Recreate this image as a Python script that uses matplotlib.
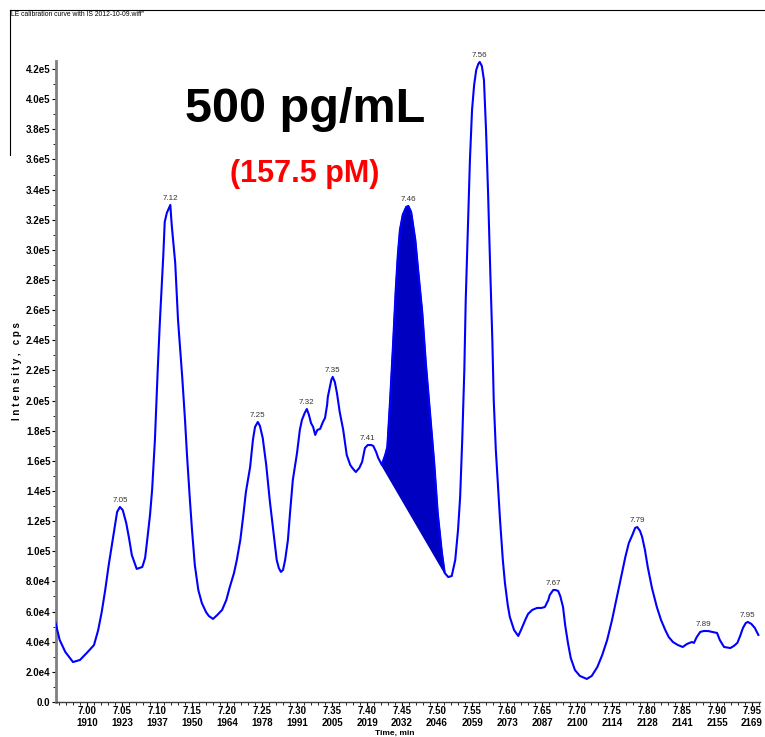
import numpy as np
import matplotlib
matplotlib.use("Agg")
import matplotlib.pyplot as plt
from matplotlib.lines import Line2D
from matplotlib.ticker import FixedLocator, MultipleLocator, FuncFormatter

# chromatogram: time (min) and intensity (thousands of cps)
time_min = [
    6.954, 6.961, 6.969, 6.980, 6.990, 7.001, 7.010, 7.016, 7.021, 7.026,
    7.031, 7.036, 7.043, 7.047, 7.051, 7.056, 7.060, 7.064, 7.071, 7.079,
    7.083, 7.086, 7.090, 7.093, 7.097, 7.101, 7.104, 7.109, 7.111, 7.114,
    7.119, 7.121, 7.126, 7.130, 7.136, 7.140, 7.143, 7.147, 7.150, 7.154,
    7.159, 7.164, 7.170, 7.174, 7.180, 7.186, 7.193, 7.199, 7.204, 7.210,
    7.214, 7.219, 7.223, 7.227, 7.233, 7.237, 7.240, 7.244, 7.247, 7.251,
    7.256, 7.261, 7.266, 7.271, 7.274, 7.277, 7.280, 7.283, 7.287, 7.290,
    7.294, 7.300, 7.304, 7.307, 7.311, 7.314, 7.317, 7.320, 7.323, 7.326,
    7.329, 7.333, 7.337, 7.340, 7.343, 7.344, 7.349, 7.351, 7.354, 7.357,
    7.361, 7.366, 7.369, 7.371, 7.376, 7.379, 7.384, 7.389, 7.393, 7.397,
    7.401, 7.406, 7.409, 7.413, 7.416, 7.419, 7.421, 7.426, 7.429, 7.433,
    7.437, 7.441, 7.444, 7.447, 7.451, 7.456, 7.459, 7.463, 7.469, 7.473,
    7.479, 7.484, 7.490, 7.496, 7.501, 7.507, 7.511, 7.516, 7.521, 7.526,
    7.530, 7.533, 7.536, 7.539, 7.541, 7.544, 7.547, 7.550, 7.553, 7.556,
    7.559, 7.561, 7.564, 7.567, 7.570, 7.573, 7.576, 7.579, 7.581, 7.584,
    7.590, 7.594, 7.597, 7.601, 7.604, 7.610, 7.616, 7.620, 7.626, 7.630,
    7.636, 7.643, 7.649, 7.654, 7.659, 7.661, 7.666, 7.669, 7.673, 7.676,
    7.680, 7.683, 7.687, 7.691, 7.697, 7.704, 7.714, 7.721, 7.729, 7.736,
    7.743, 7.750, 7.757, 7.763, 7.769, 7.774, 7.779, 7.783, 7.786, 7.790,
    7.793, 7.797, 7.801, 7.807, 7.814, 7.820, 7.826, 7.831, 7.837, 7.844,
    7.851, 7.857, 7.861, 7.864, 7.867, 7.871, 7.876, 7.881, 7.887, 7.893,
    7.900, 7.904, 7.910, 7.919, 7.924, 7.929, 7.933, 7.937, 7.941, 7.944,
    7.949, 7.954, 7.959,
]
intensity_k = [
    54.4, 41.1, 33.2, 26.5, 27.9, 33.2, 37.8, 47.8, 59.7, 74.3,
    90.9, 105.5, 126.1, 129.4, 127.4, 118.8, 108.8, 97.5, 88.3, 89.6,
    95.6, 107.5, 124.1, 140.7, 173.9, 220.3, 251.5, 296.6, 318.5, 324.5,
    329.8, 316.5, 291.3, 253.5, 215.7, 187.1, 162.6, 134.0, 114.1, 90.9,
    74.3, 65.7, 59.7, 57.1, 55.1, 57.7, 61.1, 67.7, 76.3, 85.6,
    94.2, 107.5, 122.8, 139.4, 155.9, 173.9, 182.5, 185.8, 183.2, 175.2,
    157.3, 134.0, 114.1, 94.2, 88.9, 86.3, 87.6, 94.2, 107.5, 125.4,
    147.3, 165.2, 180.5, 187.1, 191.8, 194.4, 190.5, 185.1, 182.5, 177.2,
    180.5, 181.2, 185.8, 188.5, 197.1, 202.4, 213.7, 215.7, 212.3, 205.1,
    192.4, 180.5, 170.5, 163.9, 157.3, 155.3, 152.6, 155.3, 159.3, 168.5,
    170.5, 170.5, 169.9, 165.9, 161.9, 159.3, 157.3, 163.9, 169.2, 200.4,
    235.6, 273.4, 296.6, 313.2, 323.2, 328.5, 329.1, 325.2, 306.6, 286.7,
    258.1, 225.0, 191.8, 158.6, 125.4, 98.9, 85.6, 82.9, 83.6, 94.2,
    114.1, 136.0, 173.9, 220.3, 266.8, 313.2, 359.7, 392.8, 409.4, 419.4,
    423.4, 424.7, 422.0, 412.8, 379.6, 336.4, 286.7, 240.2, 200.4, 167.2,
    120.8, 94.2, 79.0, 64.4, 56.4, 47.8, 43.8, 47.8, 54.4, 58.4,
    61.1, 62.4, 62.4, 63.0, 67.7, 71.0, 74.3, 74.3, 73.7, 70.3,
    63.0, 51.1, 39.2, 29.2, 21.2, 17.3, 15.3, 17.3, 23.2, 31.2,
    41.1, 54.4, 69.7, 82.9, 96.2, 105.5, 110.8, 115.5, 116.1, 113.5,
    109.5, 100.9, 89.6, 75.7, 63.0, 54.4, 47.8, 43.1, 39.8, 37.8,
    36.5, 38.5, 39.2, 39.8, 39.2, 43.1, 46.5, 47.1, 47.1, 46.5,
    45.8, 41.1, 36.5, 35.8, 37.2, 39.2, 43.8, 49.1, 52.4, 53.1,
    51.8, 49.1, 44.5,
]

peak_times = [7.05, 7.12, 7.25, 7.32, 7.35, 7.41, 7.46, 7.56, 7.67, 7.79, 7.89, 7.95]

# integrated peak (shaded) start/end times
area_start, area_end = 7.421, 7.511

tick_times = [7.00, 7.05, 7.10, 7.15, 7.20, 7.25, 7.30, 7.35, 7.40, 7.45,
              7.50, 7.55, 7.60, 7.65, 7.70, 7.75, 7.80, 7.85, 7.90, 7.95]
tick_scans = [1910, 1923, 1937, 1950, 1964, 1978, 1991, 2005, 2019, 2032,
              2046, 2059, 2073, 2087, 2100, 2114, 2128, 2141, 2155, 2169]

t = np.array(time_min)
y = np.array(intensity_k) * 1000

plt.rcParams['font.family'] = ['Liberation Sans', 'DejaVu Sans']

fig = plt.figure(figsize=(7.65, 7.37), dpi=100)
ax = fig.add_axes([0.0732, 0.0475, 0.9203, 0.8697])

ax.plot(t, y, color="#0000ff", lw=1.5, zorder=3)

# shaded area with straight baseline between start and end points
m = (t >= area_start) & (t <= area_end)
ax.fill(t[m], y[m], color="#0000c0", zorder=2)

# peak labels
for pt in peak_times:
    near = np.abs(t - pt) < 0.02
    idx = np.where(near)[0][np.argmax(y[near])]
    ax.annotate(f"{pt:.2f}", (t[idx], y[idx]), xytext=(0, 2), textcoords="offset points",
                ha="center", va="bottom", fontsize=5.8, color="#333333")

ax.set_xlim(6.9557, 7.9614)
ax.set_ylim(0, 4.253e5)

ax.xaxis.set_major_locator(FixedLocator(tick_times))
ax.xaxis.set_major_formatter(FuncFormatter(
    lambda v, pos: f"{tick_times[pos]:.2f}\n{tick_scans[pos]}" if pos is not None and pos < len(tick_scans) else ""))
ax.xaxis.set_minor_locator(MultipleLocator(0.01))
ax.yaxis.set_major_locator(MultipleLocator(2e4))
ax.yaxis.set_minor_locator(MultipleLocator(1e4))


def fmt_y(v, pos):
    if v <= 0:
        return "0.0"
    e = int(np.floor(np.log10(v)))
    return f"{v / 10**e:.1f}e{e}"


ax.yaxis.set_major_formatter(FuncFormatter(fmt_y))

ax.tick_params(axis="both", which="major", direction="out", length=3, width=0.8,
               labelsize=7, pad=1)
ax.tick_params(axis="x", which="major", pad=0)
ax.tick_params(axis="both", which="minor", direction="out", length=2, width=0.6)
for lab in ax.get_xticklabels():
    lab.set_linespacing(1.2)
    lab.set_fontweight("bold")
for lab in ax.get_yticklabels():
    lab.set_fontweight("bold")

for s in ["top", "right"]:
    ax.spines[s].set_visible(False)
ax.spines["left"].set_color("#808080")
ax.spines["left"].set_linewidth(2)
ax.spines["bottom"].set_color("#404040")
ax.spines["bottom"].set_linewidth(1)

# axis titles
fig.text(0.022, 0.497, "I n t e n s i t y ,   c p s", rotation=90, ha="center", va="center",
         fontsize=7, fontweight="bold")
fig.text(0.516, 0.0, "Time, min", ha="center", va="bottom", fontsize=6, fontweight="bold")

# header frame and file name
fig.add_artist(Line2D([10 / 765, 1.0], [1 - 10 / 737, 1 - 10 / 737], color="black", lw=0.8))
fig.add_artist(Line2D([10 / 765, 10 / 765], [1 - 10 / 737, 1 - 155 / 737], color="black", lw=0.8))
fig.text(11 / 765, 1 - 14 / 737, 'LE calibration curve with IS 2012-10-09.wiff"', ha="left",
         va="center", fontsize=4.9)

# concentration annotations
fig.text(305 / 765, 1 - 122 / 737, "500 pg/mL", ha="center", va="baseline",
         fontsize=35, fontweight="bold", color="black")
fig.text(305 / 765, 1 - 182 / 737, "(157.5 pM)", ha="center", va="baseline",
         fontsize=22, fontweight="bold", color="#ff0000")

fig.savefig("out.png", dpi=100)
